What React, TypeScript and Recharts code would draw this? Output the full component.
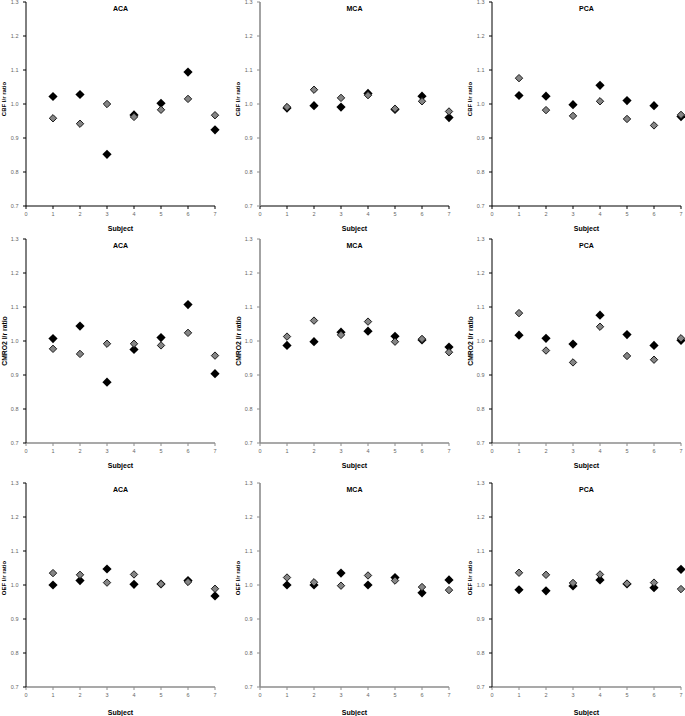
import React from "react";
import { ScatterChart, Scatter, XAxis, YAxis } from "recharts";

// subjects and axis ticks
const subjects = [1, 2, 3, 4, 5, 6, 7];
const xTicks = [0, 1, 2, 3, 4, 5, 6, 7];
const yTicks = [0.7, 0.8, 0.9, 1.0, 1.1, 1.2, 1.3];

const regions = ["ACA", "MCA", "PCA"];
const measures = ["CBF l/r ratio", "CMRO2 l/r ratio", "OEF l/r ratio"];

// CBF
const cbfAcaBlack = [1.022, 1.028, 0.852, 0.968, 1.002, 1.094, 0.924];
const cbfAcaGray = [0.958, 0.942, 1.0, 0.962, 0.983, 1.015, 0.967];
const cbfMcaBlack = [0.988, 0.995, 0.991, 1.031, 0.984, 1.023, 0.96];
const cbfMcaGray = [0.991, 1.042, 1.018, 1.026, 0.986, 1.008, 0.978];
const cbfPcaBlack = [1.025, 1.023, 0.998, 1.055, 1.01, 0.995, 0.963];
const cbfPcaGray = [1.076, 0.982, 0.965, 1.008, 0.956, 0.937, 0.968];

// CMRO2
const cmroAcaBlack = [1.007, 1.044, 0.879, 0.975, 1.01, 1.107, 0.904];
const cmroAcaGray = [0.977, 0.962, 0.992, 0.992, 0.987, 1.024, 0.957];
const cmroMcaBlack = [0.987, 0.998, 1.026, 1.029, 1.014, 1.003, 0.982];
const cmroMcaGray = [1.013, 1.06, 1.018, 1.057, 0.998, 1.006, 0.967];
const cmroPcaBlack = [1.017, 1.008, 0.991, 1.076, 1.019, 0.987, 1.002];
const cmroPcaGray = [1.082, 0.972, 0.937, 1.042, 0.956, 0.945, 1.008];

// OEF
const oefAcaBlack = [1.0, 1.013, 1.047, 1.002, 1.003, 1.013, 0.968];
const oefAcaGray = [1.035, 1.03, 1.007, 1.031, 1.003, 1.009, 0.989];
const oefMcaBlack = [1.0, 1.0, 1.035, 1.0, 1.022, 0.977, 1.015];
const oefMcaGray = [1.022, 1.008, 0.998, 1.028, 1.013, 0.994, 0.985];
const oefPcaBlack = [0.986, 0.983, 0.997, 1.015, 1.003, 0.992, 1.046];
const oefPcaGray = [1.036, 1.03, 1.006, 1.031, 1.004, 1.007, 0.988];

const blackSeries = [
  [cbfAcaBlack, cbfMcaBlack, cbfPcaBlack],
  [cmroAcaBlack, cmroMcaBlack, cmroPcaBlack],
  [oefAcaBlack, oefMcaBlack, oefPcaBlack],
];
const graySeries = [
  [cbfAcaGray, cbfMcaGray, cbfPcaGray],
  [cmroAcaGray, cmroMcaGray, cmroPcaGray],
  [oefAcaGray, oefMcaGray, oefPcaGray],
];

const toPoints = (vals: number[]) => subjects.map((s, i) => ({ x: s, y: vals[i] }));

const FONT = '"Liberation Sans", Arial, sans-serif';
const PLOT_W = 189;
const PLOT_H = 204;
const Y_AXIS_W = 26;
const M_TOP = 6;
const M_RIGHT = 6;
const X_AXIS_H = 32;

const colLeft = [26, 260, 492];
const rowTop = [2, 239, 483];
const labelShift = [-5, 0, -7];
const subjectGap = [22, 22.5, 25.5];

const diamond = (fill: string, r: number, stroke?: string) => (props: any) => {
  const { cx, cy } = props;
  if (cx == null || cy == null) return null;
  return (
    <polygon
      points={`${cx},${cy - r} ${cx + r},${cy} ${cx},${cy + r} ${cx - r},${cy}`}
      fill={fill}
      stroke={stroke || "none"}
      strokeWidth={stroke ? 1 : 0}
    />
  );
};

const blackShape = diamond("#000", 4.6);
const grayShape = diamond("#858585", 3.7, "#1a1a1a");

function Panel({ row, col }: { row: number; col: number }) {
  const yColor = col === 1 ? "#8c8c8c" : "#000";
  const xColor = row === 0 ? "#000" : "#8c8c8c";
  const left = colLeft[col] - Y_AXIS_W;
  const top = rowTop[row] - M_TOP;
  const shift = labelShift[row];
  return (
    <div style={{ position: "absolute", left, top }}>
      <ScatterChart
        width={Y_AXIS_W + PLOT_W + M_RIGHT}
        height={M_TOP + PLOT_H + X_AXIS_H}
        margin={{ top: M_TOP, right: M_RIGHT, left: 0, bottom: 0 }}
      >
        <XAxis
          type="number"
          dataKey="x"
          domain={[0, 7]}
          ticks={xTicks}
          height={X_AXIS_H}
          tickSize={3}
          tickMargin={3.5}
          axisLine={{ stroke: xColor, strokeWidth: row === 0 ? 1 : 1.6 }}
          tickLine={{ stroke: xColor }}
          tick={{ fontSize: 5.5, fill: "#666", fontFamily: FONT }}
          label={(p: any) => {
            const vb = p.viewBox || {};
            const x = (vb.x || 0) + (vb.width || 0) / 2;
            const y = (vb.y || 0) + subjectGap[row];
            return (
              <text
                x={x}
                y={y}
                textAnchor="middle"
                dominantBaseline="central"
                fill="#000"
                style={{ fontSize: 7, fontWeight: "bold", fontFamily: FONT }}
              >
                Subject
              </text>
            );
          }}
        />
        <YAxis
          type="number"
          dataKey="y"
          domain={[0.7, 1.3]}
          ticks={yTicks}
          width={Y_AXIS_W}
          tickSize={3}
          tickMargin={4.5}
          tickFormatter={(v: number) => v.toFixed(1)}
          axisLine={{ stroke: yColor, strokeWidth: col === 1 ? 1.6 : 1 }}
          tickLine={{ stroke: yColor }}
          tick={{ fontSize: 5.5, fill: "#666", fontFamily: FONT }}
          label={(p: any) => {
            const vb = p.viewBox || {};
            const x = (vb.x || 0) + 4;
            const y = (vb.y || 0) + (vb.height || 0) / 2 + shift;
            return (
              <text
                x={x}
                y={y}
                transform={`rotate(-90 ${x} ${y})`}
                textAnchor="middle"
                dominantBaseline="central"
                fill="#000"
                style={{ fontSize: row === 1 ? 6.8 : 6, fontWeight: "bold", fontFamily: FONT }}
              >
                {measures[row]}
              </text>
            );
          }}
        />
        <Scatter
          data={toPoints(blackSeries[row][col])}
          shape={blackShape}
          isAnimationActive={false}
        />
        <Scatter
          data={toPoints(graySeries[row][col])}
          shape={grayShape}
          isAnimationActive={false}
        />
      </ScatterChart>
      <div
        style={{
          position: "absolute",
          left: Y_AXIS_W + PLOT_W / 2,
          top: M_TOP + 3,
          transform: "translateX(-50%)",
          fontFamily: FONT,
          fontSize: 7,
          fontWeight: "bold",
          lineHeight: "8px",
          whiteSpace: "nowrap",
        }}
      >
        {regions[col]}
      </div>
    </div>
  );
}

export default function App() {
  return (
    <div
      style={{
        position: "absolute",
        left: 0,
        top: 0,
        width: 685,
        height: 716,
        background: "#fff",
        overflow: "hidden",
        fontFamily: FONT,
      }}
    >
      {[0, 1, 2].map((r) =>
        [0, 1, 2].map((c) => <Panel key={`${r}-${c}`} row={r} col={c} />)
      )}
    </div>
  );
}
